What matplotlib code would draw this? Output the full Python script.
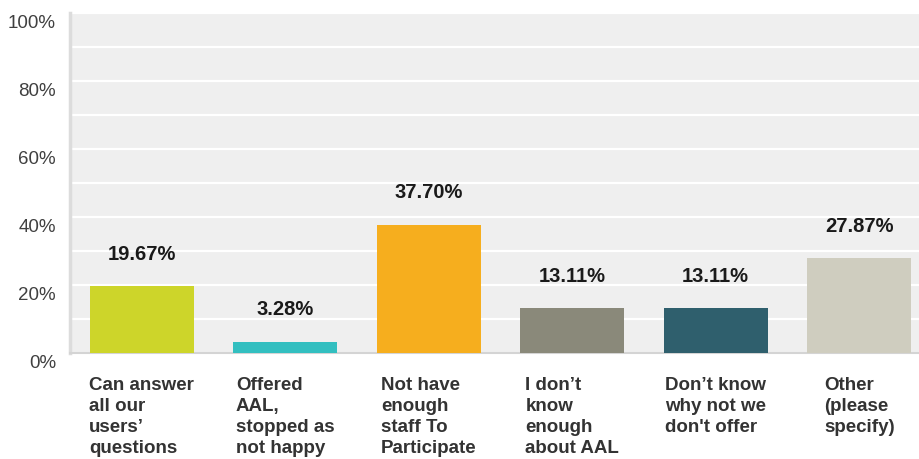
import matplotlib.pyplot as plt
import matplotlib.transforms as mtransforms

plt.rcParams['font.family'] = ['Liberation Sans', 'DejaVu Sans']

categories = [
    'Can answer\nall our\nusers\u2019\nquestions',
    'Offered\nAAL,\nstopped as\nnot happy',
    'Not have\nenough\nstaff To\nParticipate',
    'I don\u2019t\nknow\nenough\nabout AAL',
    'Don\u2019t know\nwhy not we\ndon\'t offer',
    'Other\n(please\nspecify)',
]
values = [19.67, 3.28, 37.70, 13.11, 13.11, 27.87]
colors = ['#cdd52a', '#32bfc0', '#f6ae1e', '#8a897a', '#2f5f6d', '#cfcdbf']
yticks = [0, 20, 40, 60, 80, 100]

fig = plt.figure(figsize=(9.2, 4.59), dpi=100)
# plot area runs a bit past the right edge of the canvas
ax = fig.add_axes([70 / 920, 106 / 459, 861 / 920, 340 / 459])
ax.set_facecolor('#efefef')

x = range(len(values))
ax.bar(x, values, width=0.725, color=colors, zorder=3)

for xi, v in zip(x, values):
    ax.annotate(f'{v:.2f}%', (xi, v), xytext=(0, 23), textcoords='offset points',
                ha='center', va='center', fontsize=14.5, fontweight='bold',
                color='#1a1a1a')

ax.set_xlim(-0.5, len(values) - 0.5)
ax.set_ylim(0, 100)
ax.set_yticks(yticks)
ax.set_yticklabels([f'{t}%' for t in yticks], fontsize=13.5, color='#404040')
ax.set_yticks(range(10, 100, 20), minor=True)
ax.tick_params(axis='y', which='both', length=0, pad=10)
ax.set_xticks([])
ax.grid(axis='y', which='both', color='white', linewidth=1.6, zorder=1)
ax.set_axisbelow(True)

# tick labels sit slightly below their grid lines
shift = mtransforms.ScaledTranslation(0, -0.09, fig.dpi_scale_trans)
for lbl in ax.get_yticklabels():
    lbl.set_transform(lbl.get_transform() + shift)

for xi, name in zip(x, categories):
    ax.annotate(name, (xi, 0), xytext=(0, -17), textcoords='offset points',
                ha='center', va='top', multialignment='left',
                fontsize=13.5, fontweight='bold', color='#333333',
                linespacing=1.33, annotation_clip=False)

for side in ['top', 'right']:
    ax.spines[side].set_visible(False)
ax.spines['left'].set_color('#dcdcdc')
ax.spines['left'].set_linewidth(2.5)
ax.spines['bottom'].set_color('#d4d4d4')
ax.spines['bottom'].set_linewidth(1.5)

fig.savefig('out.png', dpi=100)
